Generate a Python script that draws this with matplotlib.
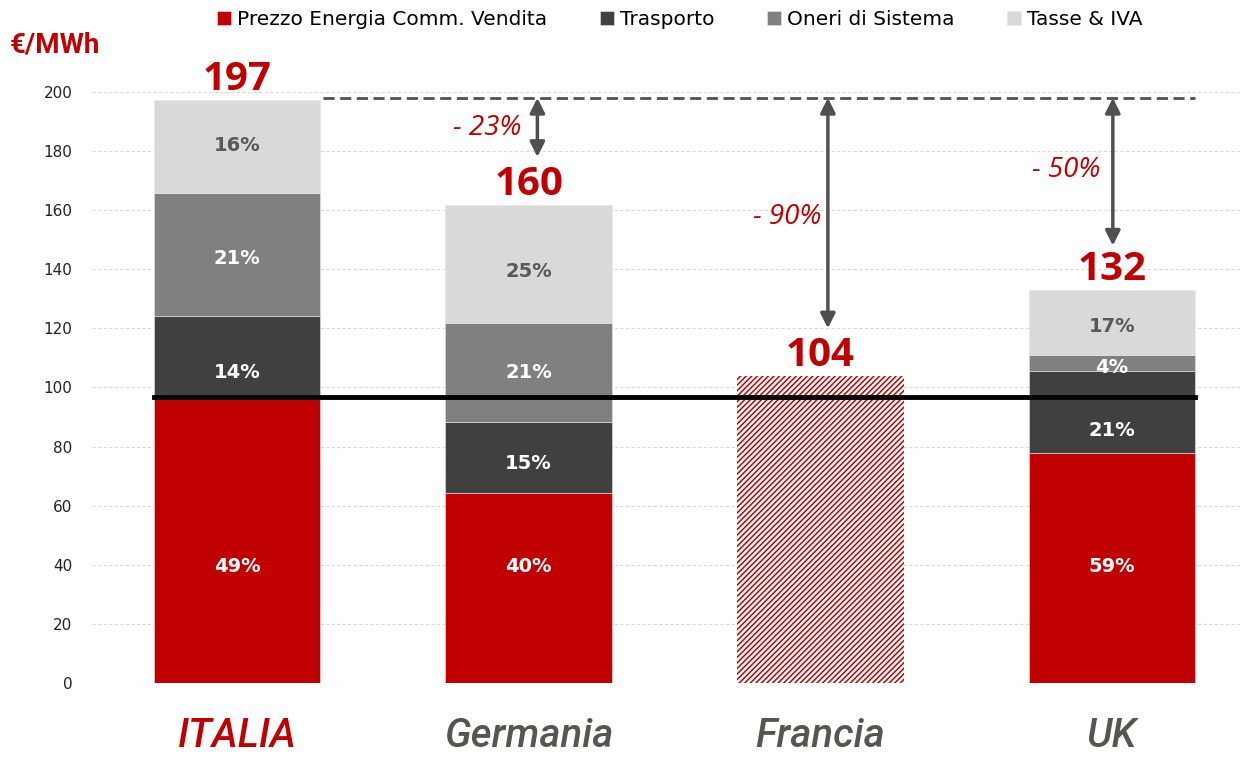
import matplotlib
matplotlib.use("Agg")
import matplotlib.pyplot as plt
import numpy as np

# data (EUR/MWh)
countries = ["ITALIA", "Germania", "Francia", "UK"]
series = ["Prezzo Energia Comm. Vendita", "Trasporto", "Oneri di Sistema", "Tasse & IVA"]
energia = [96.8, 64.3, 0, 77.8]
trasporto = [27.4, 24.0, 0, 27.8]
oneri = [41.6, 33.5, 0, 5.4]
tasse = [31.5, 40.0, 0, 22.0]
francia_total = 103.9
totals = ["197", "160", "104", "132"]
total_heights = [197.3, 161.8, 103.9, 133.0]
pct_labels = [["49%", "14%", "21%", "16%"],
              ["40%", "15%", "21%", "25%"],
              None,
              ["59%", "21%", "4%", "17%"]]
pct_ypos = [[39.3, 105.2, 143.8, 182.0],
            [39.3, 74.4, 105.2, 139.4],
            None,
            [39.3, 85.3, 106.6, 120.8]]
delta_labels = ["- 23%", "- 90%", "- 50%"]
arrow_x = [1.03, 2.026, 3.003]
arrow_bottom = [178, 120, 148]
delta_pos = [(0.857, 187.8), (1.886, 157.7), (2.842, 173.6)]
italia_ref = 198.0   # dashed reference
energia_ref = 96.8   # black line

RED = "#C00000"
DARK = "#404040"
MID = "#808080"
LIGHT = "#D9D9D9"
ARROW = "#505050"
colors = [RED, DARK, MID, LIGHT]

plt.rcParams['hatch.linewidth'] = 1.1

fig = plt.figure(figsize=(12.4, 7.57), dpi=100)
ax = fig.add_axes([0.0742, 0.0978, 0.9258, 0.7807])

x = np.arange(len(countries))
w = 0.572
stack = [energia, trasporto, oneri, tasse]
bottom = np.zeros(len(countries))
handles = []
for vals, col, name in zip(stack, colors, series):
    b = ax.bar(x, vals, w, bottom=bottom, color=col, label=name, zorder=2,
               edgecolor="#e6e6e6", linewidth=0.4)
    handles.append(b)
    bottom += np.array(vals)

# Francia: hatched bar
ax.bar(x[2], francia_total, w, facecolor="white", edgecolor=RED, hatch="//////",
       linewidth=0, zorder=2)

# percentage labels
for i, labs in enumerate(pct_labels):
    if labs is None:
        continue
    for j, (lab, yv) in enumerate(zip(labs, pct_ypos[i])):
        tc = "#595959" if j == 3 else "white"
        ax.text(x[i], yv, lab, ha="center", va="center", color=tc,
                fontsize=14, fontweight="bold", zorder=4)

# totals
for i, (t, h) in enumerate(zip(totals, total_heights)):
    ax.annotate(t, (x[i], h), xytext=(0, 7), textcoords="offset points",
                ha="center", va="baseline", color=RED, fontsize=29,
                fontweight="bold", family=["Open Sans", "DejaVu Sans"],
                annotation_clip=False)

# reference lines
ax.plot([x[0] - w / 2, x[3] + w / 2], [energia_ref, energia_ref], color="black",
        lw=3.5, zorder=3)
ax.plot([x[0] + w / 2 + 0.01, x[3] + w / 2], [italia_ref, italia_ref], color=ARROW,
        lw=2, ls=(0, (4, 2)), zorder=3, clip_on=False)

# arrows and deltas
for ax_x, yb, lab, (tx, ty) in zip(arrow_x, arrow_bottom, delta_labels, delta_pos):
    ax.annotate("", xy=(ax_x, yb), xytext=(ax_x, italia_ref),
                arrowprops=dict(arrowstyle="<|-|>", color=ARROW, lw=2.5,
                                mutation_scale=22, shrinkA=0, shrinkB=0),
                annotation_clip=False)
    ax.text(tx, ty, lab, ha="center", va="center", color=RED, fontsize=20,
            fontstyle="italic", family=["Open Sans", "DejaVu Sans"])

ax.set_xlim(-0.497, 3.439)
ax.set_ylim(0, 200)
ax.set_yticks(np.arange(0, 201, 20))
ax.tick_params(axis="y", length=0, labelsize=11, colors="#222222", pad=14)
ax.set_xticks([])
for s in ax.spines.values():
    s.set_visible(False)
ax.yaxis.grid(True, color="#d9d9d9", lw=0.8, ls=(0, (3, 2)), zorder=0)
ax.set_axisbelow(True)

# country labels
for i, c in enumerate(countries):
    col = RED if i == 0 else "#55564f"
    ax.text(x[i], -24.5, c, ha="center", va="bottom", color=col, fontsize=29,
            fontstyle="italic", fontweight="medium", family=["Roboto", "DejaVu Sans"],
            clip_on=False)

fig.text(0.008, 0.94, "€/MWh", color=RED, fontsize=20, fontweight="bold",
         family=["Roboto", "DejaVu Sans"], va="center", ha="left")

fig.legend(handles=handles, labels=series, loc="center", bbox_to_anchor=(0.548, 0.974),
           ncol=4, frameon=False, fontsize=14.5, handlelength=0.7, handleheight=0.7,
           handletextpad=0.3, columnspacing=2.6)

fig.savefig("out.png", dpi=100)
